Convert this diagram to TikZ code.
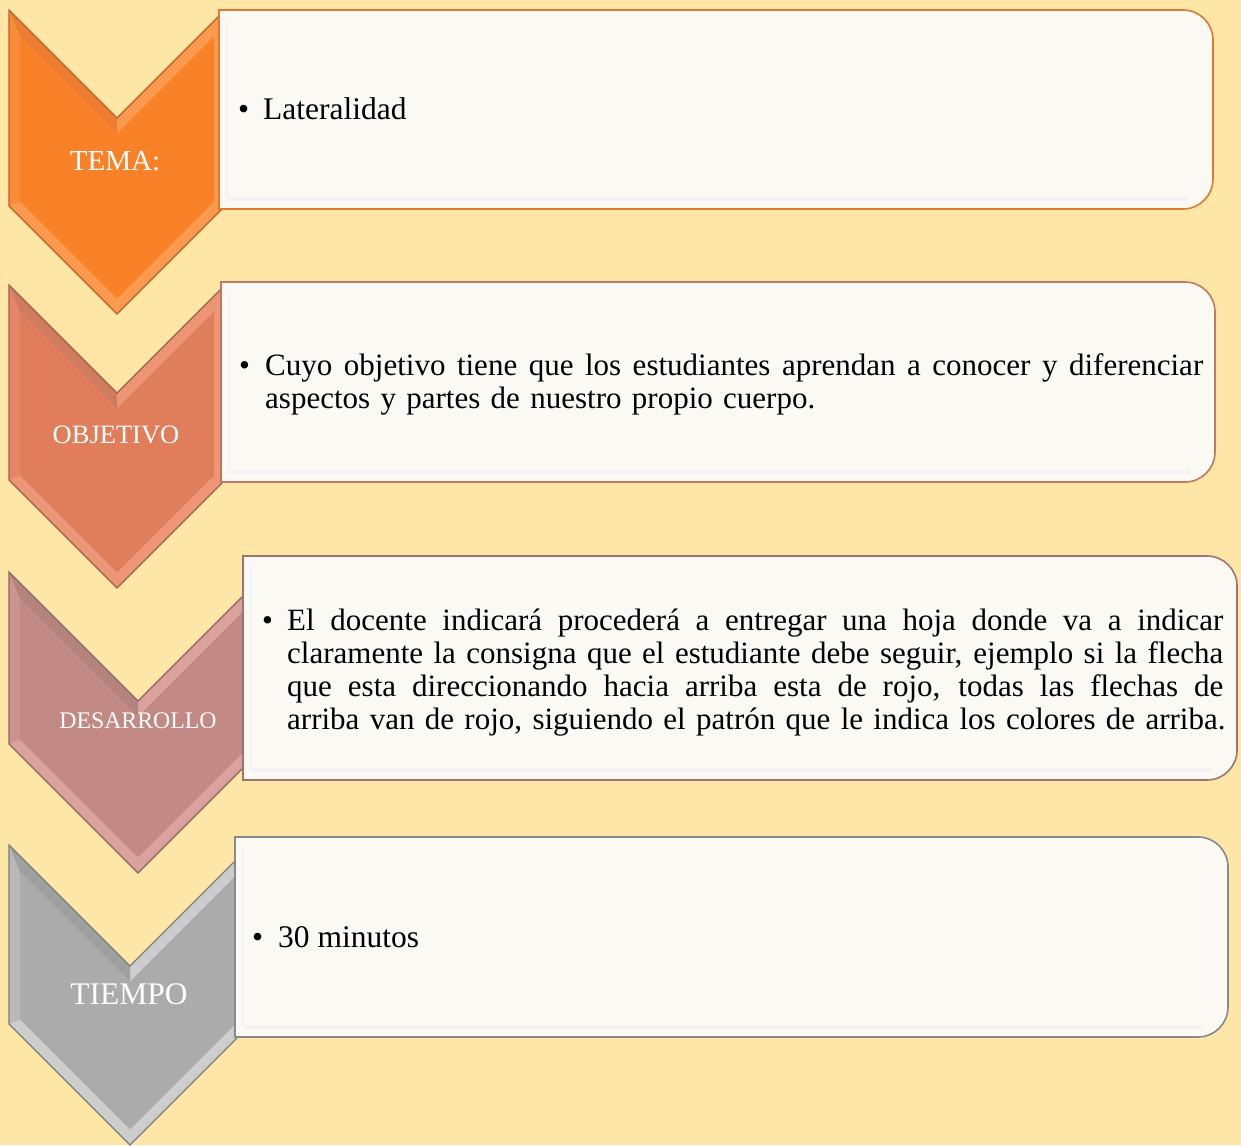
\documentclass[tikz,border=0pt]{standalone}
\usepackage{fontspec}
\setmainfont{Liberation Serif}
\definecolor{bg}{HTML}{FDE6A6}
\definecolor{boxfill}{HTML}{FBF9F4}
\definecolor{cAbase}{HTML}{F98229}\definecolor{cAlight}{HTML}{FB9A4E}\definecolor{cAmid}{HTML}{EC7D32}\definecolor{cAdark}{HTML}{B8612A}
\definecolor{cBbase}{HTML}{E07D5B}\definecolor{cBlight}{HTML}{EC9677}\definecolor{cBmid}{HTML}{CF7B60}\definecolor{cBdark}{HTML}{9E5E4C}
\definecolor{cCbase}{HTML}{C38985}\definecolor{cClight}{HTML}{DBA29D}\definecolor{cCmid}{HTML}{B48380}\definecolor{cCdark}{HTML}{8A6663}
\definecolor{cDbase}{HTML}{ABABAB}\definecolor{cDlight}{HTML}{CDCDCD}\definecolor{cDmid}{HTML}{A0A0A0}\definecolor{cDdark}{HTML}{7C7C7C}
\definecolor{bAline}{HTML}{DD7A2E}
\definecolor{bBline}{HTML}{C27860}
\definecolor{bCline}{HTML}{A07370}
\definecolor{bDline}{HTML}{898989}
% chevron outer: L h T B ; bevel d = 11
\newcommand\chevouter[4]{(#1,#3) -- ({#1+#2},{#3+#2}) -- ({#1+2*#2},#3) -- ({#1+2*#2},#4) -- ({#1+#2},{#4+#2}) -- (#1,#4) -- cycle}
\newcommand\chevinner[4]{({#1+11},{#3+26.6}) -- ({#1+#2},{#3+#2+15.6}) -- ({#1+2*#2-11},{#3+26.6}) -- ({#1+2*#2-11},{#4-4.6}) -- ({#1+#2},{#4+#2-15.6}) -- ({#1+11},{#4-4.6}) -- cycle}
\newcommand\chevtopleft[4]{(#1,#3) -- ({#1+#2},{#3+#2}) -- ({#1+#2},{#3+#2+15.6}) -- ({#1+11},{#3+26.6}) -- cycle}
\newcommand\chevleftside[4]{(#1,#3) -- ({#1+11},{#3+26.6}) -- ({#1+11},{#4-4.6}) -- (#1,#4) -- cycle}
% box: x1 y1 x2 y2 (right corners rounded, r=30)
\newcommand\boxpath[4]{(#1,#2) -- ({#3-30},#2) arc[start angle=-90,end angle=0,radius=30] -- (#3,{#4-30}) arc[start angle=0,end angle=90,radius=30] -- (#1,#4) -- cycle}
\newcommand\chevron[8]{%
  \fill[#6] \chevouter{#1}{#2}{#3}{#4};
  \fill[#5!60!#6] \chevleftside{#1}{#2}{#3}{#4};
  \fill[#7] \chevtopleft{#1}{#2}{#3}{#4};
  \fill[#5] \chevinner{#1}{#2}{#3}{#4};
  \draw[#8, line width=1.2pt, line join=miter] \chevouter{#1}{#2}{#3}{#4};
}
\newcommand\textbox[5]{%
  \fill[boxfill] \boxpath{#1}{#2}{#3}{#4};
  \draw[black!5, line width=4pt] ({#1+8},{#4-10}) -- ({#3-25},{#4-10});
  \draw[black!4, line width=4pt] ({#1+8},{#2+10}) -- ({#1+8},{#4-10});
  \draw[#5, line width=1.6pt] \boxpath{#1}{#2}{#3}{#4};
}
\newcommand\jline[2]{\hbox to #1{\spaceskip=0.25em plus 1fil\relax #2}}
\begin{document}
\begin{tikzpicture}[x=1pt,y=-1pt,
  lab/.style={text=white, anchor=base, inner sep=0pt},
  bul/.style={anchor=base west, inner sep=0pt},
  body/.style={anchor=base west, inner sep=0pt}]
\useasboundingbox (0,0) rectangle (1241,1145);
\fill[bg] (0,0) rectangle (1241,1145);

% chevrons
\chevron{9}{108}{10}{206}{cAbase}{cAlight}{cAmid}{cAdark}
\chevron{9}{108}{285}{480}{cBbase}{cBlight}{cBmid}{cBdark}
\chevron{9}{129}{572}{744}{cCbase}{cClight}{cCmid}{cCdark}
\chevron{9}{121}{845}{1024}{cDbase}{cDlight}{cDmid}{cDdark}

% boxes
\textbox{219}{10}{1213}{209}{bAline}
\textbox{221}{282}{1215}{482}{bBline}
\textbox{243}{556}{1237}{780}{bCline}
\textbox{235}{837}{1228}{1037}{bDline}

% chevron labels
\node[lab, font=\fontsize{29}{30}\selectfont] (l1) at (115,170) {TEMA:};
\node[lab, font=\fontsize{26.5}{28}\selectfont] (l2) at (116,443) {OBJETIVO};
\node[lab, font=\fontsize{23.8}{26}\selectfont] (l3) at (138,728) {DESARROLLO};
\node[lab, font=\fontsize{31.5}{33}\selectfont] (l4) at (129,1004) {TIEMPO};

% box texts
\node[bul, font=\fontsize{31.5}{33}\selectfont] (u1) at (238,120) {•};
\node[body, font=\fontsize{31.5}{33}\selectfont] (t1) at (263,120) {Lateralidad};

\node[bul, font=\fontsize{31}{33}\selectfont] (u2) at (239,375) {•};
\node[body, font=\fontsize{31}{33}\selectfont, text width=938pt, align=left] (t2) at (265,375)
  {\jline{938pt}{Cuyo objetivo tiene que los estudiantes aprendan a conocer y diferenciar}
   \hbox{aspectos y partes de nuestro propio cuerpo.}};

\node[bul, font=\fontsize{31}{33}\selectfont] (u3) at (262,630) {•};
\node[body, font=\fontsize{31}{33}\selectfont, text width=936pt, align=left] (t3) at (287,630)
  {\jline{936pt}{El docente indicará procederá a entregar una hoja donde va a indicar}
   \jline{936pt}{claramente la consigna que el estudiante debe seguir, ejemplo si la flecha}
   \jline{936pt}{que esta direccionando hacia arriba esta de rojo, todas las flechas de}
   \hbox{arriba van de rojo, siguiendo el patrón que le indica los colores de arriba.}};

\node[bul, font=\fontsize{31.5}{33}\selectfont] (u4) at (252,947) {•};
\node[body, font=\fontsize{31.5}{33}\selectfont] (t4) at (278,947) {30 minutos};
\end{tikzpicture}
\end{document}
